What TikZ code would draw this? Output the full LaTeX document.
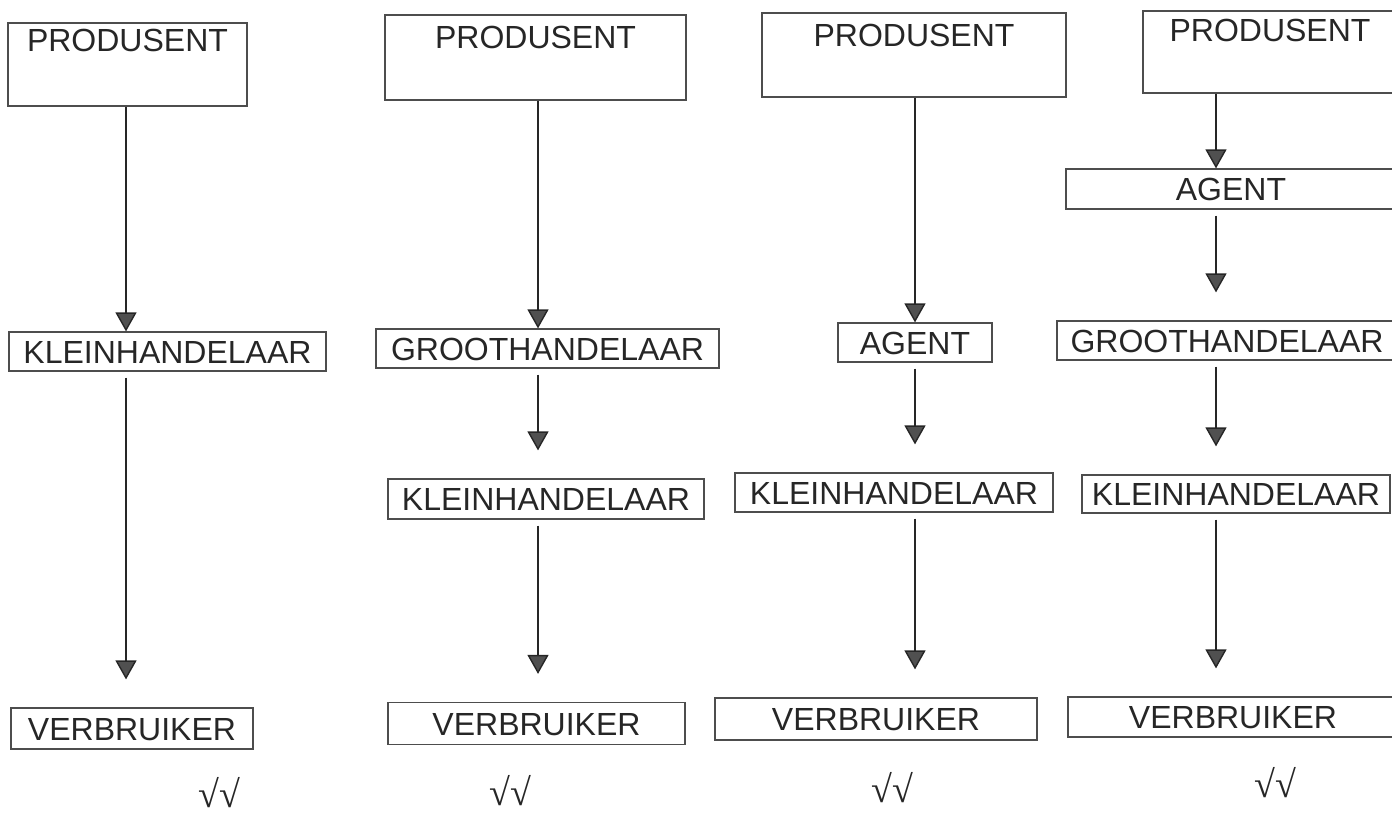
\documentclass[tikz,border=0pt]{standalone}
\usepackage{fontspec}
\setmainfont{Liberation Sans}
\newfontfamily\tickfont{Liberation Serif}
\usetikzlibrary{arrows.meta}
\definecolor{boxline}{HTML}{4d4d4d}
\definecolor{headgray}{HTML}{505050}
\definecolor{inkgray}{HTML}{262626}
\tikzstyle{stage}=[draw=boxline, text=inkgray, line width=0.6pt, inner sep=0, text height=11.5pt, text depth=0pt, font=\fontsize{16}{19}\selectfont]
\tikzstyle{prodbox}=[stage]
\tikzstyle{flow}=[line width=0.7pt, draw=inkgray, -{Triangle[width=10.5pt, length=9.5pt, fill=headgray]}]
\tikzstyle{flowgap}=[flow, shorten <=3pt, shorten >=14pt]
\tikzstyle{tick}=[inner sep=0, text=inkgray, text height=13pt, text depth=0.5pt, font=\tickfont\fontsize{19}{22}\selectfont]

\begin{document}
\begin{tikzpicture}[x=0.5pt, y=-0.5pt]

\clip (0, 0) rectangle (1392, 814);

\coordinate (ax1) at ( 126, 0);
\coordinate (ax2) at ( 538, 0);
\coordinate (ax3) at ( 915, 0);
\coordinate (ax4) at (1216, 0);

\node [prodbox, minimum width=119.5pt, minimum height=41.5pt, text depth=25pt]   (P1) at ( 127.5, 64.5) {PRODUSENT};
\node [prodbox, minimum width=150.5pt, minimum height=42.5pt, text depth=21pt]   (P2) at ( 535.5, 57.5) {PRODUSENT};
\node [prodbox, minimum width=152pt,   minimum height=42pt,   text depth=20.5pt] (P3) at ( 914,   55)   {PRODUSENT};
\node [prodbox, minimum width=127pt,   minimum height=41pt,   text depth=22.5pt] (P4) at (1270,   52)   {PRODUSENT};

\node [stage, minimum width=158.5pt, minimum height=19.5pt] (K1) at ( 167.5, 351.5) {KLEINHANDELAAR};
\node [stage, minimum width=121pt,   minimum height=20.5pt] (V1) at ( 132,   728.5) {VERBRUIKER};

\node [stage, minimum width=171.5pt, minimum height=19.5pt] (G2) at ( 547.5, 348.5) {GROOTHANDELAAR};
\node [stage, minimum width=158pt,   minimum height=20pt]   (K2) at ( 546,   499)   {KLEINHANDELAAR};
\node [stage, minimum width=148.5pt, minimum height=21pt]   (V2) at ( 536.5, 723.5) {VERBRUIKER};

\node [stage, minimum width=77pt,    minimum height=19.5pt] (A3) at ( 915,   342.5) {AGENT};
\node [stage, minimum width=159pt,   minimum height=19.5pt] (K3) at ( 894,   492.5) {KLEINHANDELAAR};
\node [stage, minimum width=161pt,   minimum height=21pt]   (V3) at ( 876,   719)   {VERBRUIKER};

\node [stage, minimum width=165pt,   minimum height=20pt]   (A4) at (1231,   189)   {AGENT};
\node [stage, minimum width=170pt,   minimum height=19.5pt] (G4) at (1227,   340.5) {GROOTHANDELAAR};
\node [stage, minimum width=154pt,   minimum height=19pt]   (K4) at (1236,   494)   {KLEINHANDELAAR};
\node [stage, minimum width=165pt,   minimum height=20pt]   (V4) at (1233,   717)   {VERBRUIKER};

\draw [flow]    (P1.south -| ax1) -- (K1.north -| ax1);
\draw [flowgap] (K1.south -| ax1) -- (V1.north -| ax1);

\draw [flow]    (P2.south -| ax2) -- (G2.north -| ax2);
\draw [flowgap] (G2.south -| ax2) -- (K2.north -| ax2);
\draw [flowgap] (K2.south -| ax2) -- (V2.north -| ax2);

\draw [flow]    (P3.south -| ax3) -- (A3.north -| ax3);
\draw [flowgap] (A3.south -| ax3) -- (K3.north -| ax3);
\draw [flowgap] (K3.south -| ax3) -- (V3.north -| ax3);

\draw [flow]    (P4.south -| ax4) -- (A4.north -| ax4);
\draw [flowgap] (A4.south -| ax4) -- (G4.north -| ax4);
\draw [flowgap] (G4.south -| ax4) -- (K4.north -| ax4);
\draw [flowgap] (K4.south -| ax4) -- (V4.north -| ax4);

\node [tick] (t1) at ( 219, 795) {√√};
\node [tick] (t2) at ( 510, 793) {√√};
\node [tick] (t3) at ( 892, 790) {√√};
\node [tick] (t4) at (1275, 785) {√√};

\end{tikzpicture}
\end{document}
